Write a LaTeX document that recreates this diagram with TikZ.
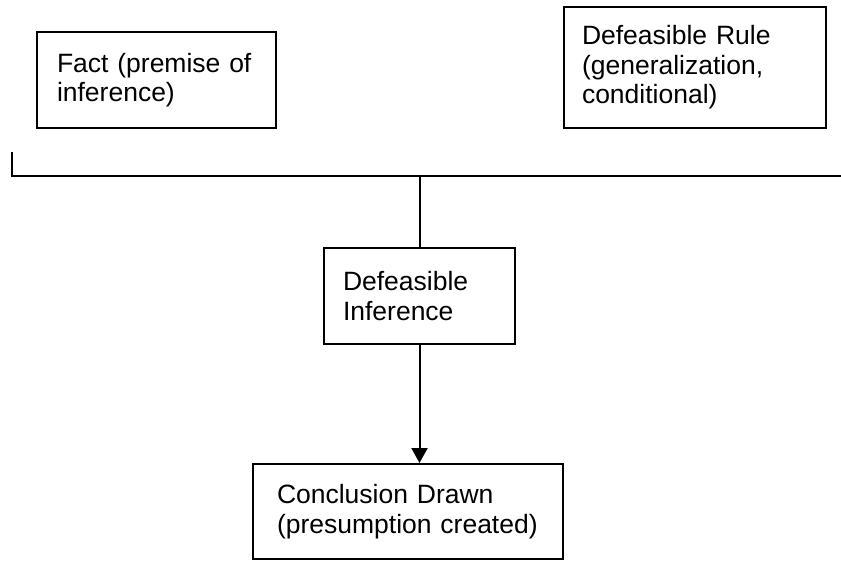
\documentclass[tikz,border=0pt]{standalone}
\usepackage{fontspec}
\setmainfont{Liberation Sans}
\usetikzlibrary{arrows.meta}
\tikzset{
	stepbox/.style={draw, line width=2pt, align=left, anchor=center,
		font=\fontsize{26.5}{29.5}\selectfont},
	link/.style={line width=2pt},
	pointer/.style={line width=2pt, -{Triangle[width=16pt,length=15pt]}}
}

\begin{document}
\begin{tikzpicture}[x=1pt, y=-1pt]
			%%%%% START %%%%%
			
			\useasboundingbox (0, 0) rectangle (841, 560);
			
			\node[stepbox, text width=199pt, inner xsep=20pt, minimum height=96pt] (fact) at (156.5, 80) {Fact (premise of\\inference)};
			\node[stepbox, text width=226pt, inner xsep=18pt, minimum height=121pt] (rule) at (695, 67.5) {Defeasible Rule\\(generalization,\\conditional)};
			
			\coordinate (tick) at (12, 152);
			\coordinate (busL) at (12, 176);
			\coordinate (busR) at (841, 176);
			\draw[link] (tick) -- (busL) -- (busR);
			
			\node[stepbox, text width=153pt, inner xsep=19pt, minimum height=96pt] (inf) at (419.5, 296) {Defeasible\\Inference};
			\draw[link] (inf.north |- busL) -- (inf.north);
			
			\node[stepbox, text width=262pt, inner xsep=24pt, minimum height=95pt] (concl) at (408, 511.5) {Conclusion Drawn\\(presumption created)};
			\draw[pointer] (inf.south) -- (inf.south |- concl.north);
			
			%%%%% END %%%%%
\end{tikzpicture}
\end{document}
